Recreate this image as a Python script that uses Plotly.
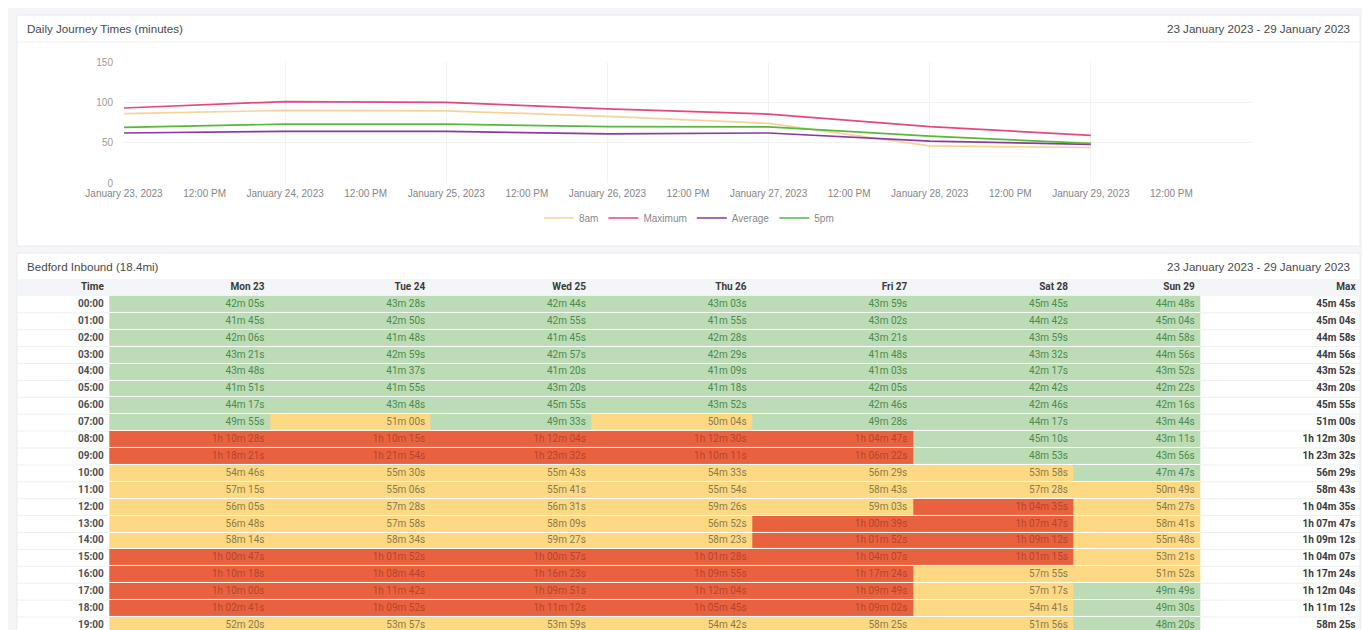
import plotly.graph_objects as go

# ---------------- data ----------------
chart_dates = ["2023-01-23", "2023-01-24", "2023-01-25", "2023-01-26",
               "2023-01-27", "2023-01-28", "2023-01-29"]
series_8am = [86, 90, 89.5, 82.5, 74, 46, 44]
series_max = [93, 101, 100, 92, 85.5, 70, 59]
series_avg = [62, 64, 64, 61, 62, 52, 48]
series_5pm = [69, 73, 73, 70, 69.6, 58, 49]

x_tickvals = ["2023-01-23 00:00", "2023-01-23 12:00", "2023-01-24 00:00", "2023-01-24 12:00",
              "2023-01-25 00:00", "2023-01-25 12:00", "2023-01-26 00:00", "2023-01-26 12:00",
              "2023-01-27 00:00", "2023-01-27 12:00", "2023-01-28 00:00", "2023-01-28 12:00",
              "2023-01-29 00:00", "2023-01-29 12:00"]
x_ticktext = ["January 23, 2023", "12:00 PM", "January 24, 2023", "12:00 PM",
              "January 25, 2023", "12:00 PM", "January 26, 2023", "12:00 PM",
              "January 27, 2023", "12:00 PM", "January 28, 2023", "12:00 PM",
              "January 29, 2023", "12:00 PM"]
y_tickvals = [0, 50, 100, 150]

day_labels = ["Mon 23", "Tue 24", "Wed 25", "Thu 26", "Fri 27", "Sat 28", "Sun 29"]
time_labels = ["00:00", "01:00", "02:00", "03:00", "04:00", "05:00", "06:00", "07:00",
               "08:00", "09:00", "10:00", "11:00", "12:00", "13:00", "14:00", "15:00",
               "16:00", "17:00", "18:00", "19:00"]

mon = ["42m 05s", "41m 45s", "42m 06s", "43m 21s", "43m 48s", "41m 51s", "44m 17s", "49m 55s",
       "1h 10m 28s", "1h 18m 21s", "54m 46s", "57m 15s", "56m 05s", "56m 48s", "58m 14s",
       "1h 00m 47s", "1h 10m 18s", "1h 10m 00s", "1h 02m 41s", "52m 20s"]
tue = ["43m 28s", "42m 50s", "41m 48s", "42m 59s", "41m 37s", "41m 55s", "43m 48s", "51m 00s",
       "1h 10m 15s", "1h 21m 54s", "55m 30s", "55m 06s", "57m 28s", "57m 58s", "58m 34s",
       "1h 01m 52s", "1h 08m 44s", "1h 11m 42s", "1h 09m 52s", "53m 57s"]
wed = ["42m 44s", "42m 55s", "41m 45s", "42m 57s", "41m 20s", "43m 20s", "45m 55s", "49m 33s",
       "1h 12m 04s", "1h 23m 32s", "55m 43s", "55m 41s", "56m 31s", "58m 09s", "59m 27s",
       "1h 00m 57s", "1h 16m 23s", "1h 09m 51s", "1h 11m 12s", "53m 59s"]
thu = ["43m 03s", "41m 55s", "42m 28s", "42m 29s", "41m 09s", "41m 18s", "43m 52s", "50m 04s",
       "1h 12m 30s", "1h 10m 11s", "54m 33s", "55m 54s", "59m 26s", "56m 52s", "58m 23s",
       "1h 01m 28s", "1h 09m 55s", "1h 12m 04s", "1h 05m 45s", "54m 42s"]
fri = ["43m 59s", "43m 02s", "43m 21s", "41m 48s", "41m 03s", "42m 05s", "42m 46s", "49m 28s",
       "1h 04m 47s", "1h 06m 22s", "56m 29s", "58m 43s", "59m 03s", "1h 00m 39s", "1h 01m 52s",
       "1h 04m 07s", "1h 17m 24s", "1h 09m 49s", "1h 09m 02s", "58m 25s"]
sat = ["45m 45s", "44m 42s", "43m 59s", "43m 32s", "42m 17s", "42m 42s", "42m 46s", "44m 17s",
       "45m 10s", "48m 53s", "53m 58s", "57m 28s", "1h 04m 35s", "1h 07m 47s", "1h 09m 12s",
       "1h 01m 15s", "57m 55s", "57m 17s", "54m 41s", "51m 56s"]
sun = ["44m 48s", "45m 04s", "44m 58s", "44m 56s", "43m 52s", "42m 22s", "42m 16s", "43m 44s",
       "43m 11s", "43m 56s", "47m 47s", "50m 49s", "54m 27s", "58m 41s", "55m 48s",
       "53m 21s", "51m 52s", "49m 49s", "49m 30s", "48m 20s"]
day_columns = [mon, tue, wed, thu, fri, sat, sun]

GREEN_LIMIT_S = 50 * 60   # below -> green
RED_LIMIT_S = 60 * 60     # at/above -> red


def to_seconds(s):
    total = 0
    for part in s.split():
        if part.endswith("h"):
            total += int(part[:-1]) * 3600
        elif part.endswith("m"):
            total += int(part[:-1]) * 60
        elif part.endswith("s"):
            total += int(part[:-1])
    return total


def category(s):
    v = to_seconds(s)
    if v < GREEN_LIMIT_S:
        return 0
    if v < RED_LIMIT_S:
        return 1
    return 2


# ---------------- layout constants ----------------
W, H = 1370, 630
BODY = 8  # browser body margin: page pixel = figure pixel + 8
PAGE_BG = "#f4f5f7"
CELL_COLORS = ["#bcdcb5", "#fed984", "#e9623f"]
TEXT_COLORS = ["#4c8a4e", "#8a7b4a", "#b4452b"]

TABLE_LEFT = 17
TABLE_RIGHT = 1360
TIME_W = 92.3
DAY_WIDTHS = [160.7, 160.7, 160.7, 160.7, 160.7, 160.7, 126.7]
PAD = 5.5


def px(x):
    return (x - BODY) / W


def py(y):
    return 1 - (y - BODY) / H


fig = go.Figure()

# ---------------- line chart ----------------
line_specs = [("8am", series_8am, "#f8d29b"),
              ("Maximum", series_max, "#e4497c"),
              ("Average", series_avg, "#8a3b9e"),
              ("5pm", series_5pm, "#58b83c")]
for name, vals, col in line_specs:
    fig.add_trace(go.Scatter(x=chart_dates, y=vals, name=name, mode="lines",
                             line=dict(color=col, width=1.7),
                             xaxis="x", yaxis="y", hoverinfo="skip"))

# ---------------- table ----------------
n_rows = len(time_labels)
rows = list(range(n_rows))

edges = [TABLE_LEFT + TIME_W]
for w in DAY_WIDTHS:
    edges.append(edges[-1] + w)

z = [[category(day_columns[j][i]) for j in range(len(day_columns))] for i in rows]
fig.add_trace(go.Heatmap(x=edges, y=rows, z=z, zmin=0, zmax=2,
                         colorscale=[[0, CELL_COLORS[0]], [0.5, CELL_COLORS[1]], [1, CELL_COLORS[2]]],
                         showscale=False, ygap=1, xgap=0, hoverinfo="skip",
                         xaxis="x2", yaxis="y2"))

TABLE_FONT = "Roboto, Arial, sans-serif"

for j, col in enumerate(day_columns):
    fig.add_trace(go.Scatter(
        x=[edges[j + 1] - PAD] * n_rows, y=rows, text=col, mode="text",
        textposition="middle left",
        textfont=dict(family=TABLE_FONT, size=10,
                      color=[TEXT_COLORS[category(v)] for v in col]),
        showlegend=False, hoverinfo="skip", xaxis="x2", yaxis="y2"))

# time column
fig.add_trace(go.Scatter(
    x=[edges[0] - PAD] * n_rows, y=rows, text=["<b>%s</b>" % t for t in time_labels],
    mode="text", textposition="middle left",
    textfont=dict(family=TABLE_FONT, size=10, color="#4f4f4f"),
    showlegend=False, hoverinfo="skip", xaxis="x2", yaxis="y2"))

# max column
max_labels = []
for i in rows:
    vals = [c[i] for c in day_columns]
    max_labels.append(max(vals, key=to_seconds))
fig.add_trace(go.Scatter(
    x=[TABLE_RIGHT - 4.5] * n_rows, y=rows, text=["<b>%s</b>" % m for m in max_labels],
    mode="text", textposition="middle left",
    textfont=dict(family=TABLE_FONT, size=10, color="#3a3a3a"),
    showlegend=False, hoverinfo="skip", xaxis="x2", yaxis="y2"))

# header row
header_x = [edges[0] - PAD] + [e - PAD for e in edges[1:]] + [TABLE_RIGHT - 4.5]
header_text = ["Time"] + day_labels + ["Max"]
fig.add_trace(go.Scatter(
    x=header_x, y=[-1] * len(header_x), text=["<b>%s</b>" % h for h in header_text],
    mode="text", textposition="middle left",
    textfont=dict(family=TABLE_FONT, size=10, color="#3a3a3a"),
    showlegend=False, hoverinfo="skip", xaxis="x2", yaxis="y2"))

# ---------------- decorations ----------------
shapes = [
    dict(type="rect", xref="paper", yref="paper", x0=px(17), x1=px(1360), y0=py(246), y1=py(15),
         fillcolor="white", line=dict(color="#e9eaee", width=1), layer="below"),
    dict(type="line", xref="paper", yref="paper", x0=px(17), x1=px(1360), y0=py(42), y1=py(42),
         line=dict(color="#eff0f3", width=1), layer="below"),
    dict(type="rect", xref="paper", yref="paper", x0=px(17), x1=px(1360), y0=py(660), y1=py(253),
         fillcolor="white", line=dict(color="#e9eaee", width=1), layer="below"),
    dict(type="rect", xref="x2", yref="y2", x0=TABLE_LEFT, x1=TABLE_RIGHT, y0=-1.5, y1=-0.5,
         fillcolor="#f4f5f8", line=dict(width=0), layer="below"),
]
for i in range(n_rows):
    for x0, x1 in [(TABLE_LEFT, edges[0]), (edges[-1], TABLE_RIGHT)]:
        shapes.append(dict(type="line", xref="x2", yref="y2", x0=x0, x1=x1, y0=i + 0.5, y1=i + 0.5,
                           line=dict(color="#eeeff2", width=1), layer="below"))

CHART_FONT = "Liberation Sans, Arial, sans-serif"
TITLE_FONT = dict(family=CHART_FONT, size=11.6, color="#4a4a4a")
annotations = [
    dict(text="Daily Journey Times (minutes)", xref="paper", yref="paper", x=px(25), y=py(29),
         xanchor="left", yanchor="middle", showarrow=False, font=TITLE_FONT),
    dict(text="23 January 2023 - 29 January 2023", xref="paper", yref="paper", x=px(1352), y=py(29),
         xanchor="right", yanchor="middle", showarrow=False, font=TITLE_FONT),
    dict(text="Bedford Inbound (18.4mi)", xref="paper", yref="paper", x=px(25), y=py(266),
         xanchor="left", yanchor="middle", showarrow=False, font=TITLE_FONT),
    dict(text="23 January 2023 - 29 January 2023", xref="paper", yref="paper", x=px(1352), y=py(266),
         xanchor="right", yanchor="middle", showarrow=False, font=TITLE_FONT),
]

ROW_PX = 16.9
table_top_px = 279
table_bottom_px = H + BODY
rows_visible = (table_bottom_px - table_top_px) / ROW_PX

fig.update_layout(
    width=W, height=H,
    margin=dict(l=0, r=0, t=0, b=0, pad=0, autoexpand=False),
    paper_bgcolor=PAGE_BG,
    plot_bgcolor="rgba(0,0,0,0)",
    showlegend=True,
    legend=dict(orientation="h", x=px(689), xanchor="center", y=py(218), yanchor="middle",
                font=dict(family=CHART_FONT, size=10, color="#888"),
                bgcolor="rgba(0,0,0,0)", itemwidth=30, tracegroupgap=0),
    xaxis=dict(type="date", domain=[px(124), px(1252)],
               range=["2023-01-23 00:00", "2023-01-30 00:00"],
               tickmode="array", tickvals=x_tickvals, ticktext=x_ticktext,
               showgrid=False, zeroline=False, showline=False, ticks="",
               ticklabelstandoff=3, automargin=False,
               tickfont=dict(family=CHART_FONT, size=10, color="#868686"),
               minor=dict(tickmode="array", tickvals=chart_dates + ["2023-01-30"],
                          showgrid=True, gridcolor="#f2f2f4", gridwidth=1, ticks=""),
               anchor="y", fixedrange=True),
    yaxis=dict(domain=[py(183), py(62)], range=[0, 150], tickmode="array", tickvals=y_tickvals,
               showgrid=True, gridcolor="#f2f2f4", gridwidth=1, zeroline=False, showline=False,
               ticks="", ticklabelstandoff=10, automargin=False,
               tickfont=dict(family=CHART_FONT, size=10, color="#9a9a9a"),
               anchor="x", fixedrange=True),
    xaxis2=dict(domain=[px(TABLE_LEFT), px(TABLE_RIGHT)], range=[TABLE_LEFT, TABLE_RIGHT],
                visible=False, anchor="y2", fixedrange=True, automargin=False),
    yaxis2=dict(domain=[0, py(table_top_px)], range=[-1.5 + rows_visible, -1.5],
                visible=False, anchor="x2", fixedrange=True, automargin=False),
    shapes=shapes,
    annotations=annotations,
)

fig.write_html("out.html")
